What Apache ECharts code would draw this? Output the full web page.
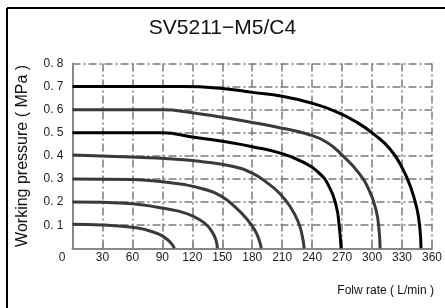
<!DOCTYPE html>
<html>
<head>
<meta charset="utf-8">
<script src="https://cdn.jsdelivr.net/npm/echarts@6/dist/echarts.min.js"></script>
<style>html,body{margin:0;padding:0;background:#fff}#c{width:445px;height:308px}</style>
</head>
<body>
<div id="c"></div>
<script>
var titleText = 'SV5211\u2212M5/C4';
var xAxisName = 'Folw rate ( L/min )';
var yAxisName = 'Working pressure ( MPa )';
var xTicks = [0, 30, 60, 90, 120, 150, 180, 210, 240, 270, 300, 330, 360];
var yTicks = [0, 0.1, 0.2, 0.3, 0.4, 0.5, 0.6, 0.7, 0.8];
var yTickLabels = ['', '0. 1', '0. 2', '0. 3', '0. 4', '0. 5', '0. 6', '0. 7', '0. 8'];

var curveNames = ['0.7', '0.6', '0.5', '0.4', '0.3', '0.2', '0.1'];
var flow07 = [0, 110, 150, 180, 210, 240, 265, 285, 303, 318, 330, 339, 345, 348, 349];
var pres07 = [0.7, 0.7, 0.692, 0.675, 0.658, 0.628, 0.59, 0.545, 0.49, 0.43, 0.35, 0.26, 0.17, 0.08, 0];
var flow06 = [0, 90, 120, 150, 180, 210, 235, 255, 272, 286, 297, 304, 307, 308];
var pres06 = [0.6, 0.6, 0.587, 0.567, 0.545, 0.52, 0.495, 0.458, 0.395, 0.33, 0.252, 0.165, 0.079, 0];
var flow05 = [0, 90, 120, 150, 180, 210, 230, 246, 257, 264, 267, 269];
var pres05 = [0.5, 0.5, 0.482, 0.463, 0.44, 0.41, 0.375, 0.33, 0.267, 0.185, 0.1, 0];
var flow04 = [0, 50, 100, 130, 160, 180, 196, 208, 218, 226, 230, 232];
var pres04 = [0.404, 0.396, 0.387, 0.375, 0.355, 0.325, 0.28, 0.235, 0.18, 0.115, 0.055, 0];
var flow03 = [0, 60, 90, 110, 130, 148, 163, 175, 183, 187, 189];
var pres03 = [0.3, 0.298, 0.288, 0.277, 0.258, 0.228, 0.178, 0.125, 0.075, 0.035, 0];
var flow02 = [0, 30, 60, 85, 105, 120, 132, 140, 144, 145];
var pres02 = [0.2, 0.199, 0.193, 0.178, 0.162, 0.14, 0.11, 0.07, 0.03, 0];
var flow01 = [0, 30, 55, 72, 86, 95, 100, 102];
var pres01 = [0.104, 0.101, 0.093, 0.082, 0.062, 0.038, 0.015, 0];

var flows = [flow07, flow06, flow05, flow04, flow03, flow02, flow01];
var pres = [pres07, pres06, pres05, pres04, pres03, pres02, pres01];
var colors = ['#000000', '#3a3a3a', '#000000', '#3a3a3a', '#3a3a3a', '#3a3a3a', '#3a3a3a'];

function zip(a, b) { return a.map(function (v, i) { return [v, b[i]]; }); }

var gridColor = '#7a7a7a';
var dashDot = [8, 3, 2, 3];

var series = curveNames.map(function (n, i) {
  return {
    name: n, type: 'line', data: zip(flows[i], pres[i]),
    showSymbol: false, smooth: 0.5,
    lineStyle: { color: colors[i], width: 3 }, z: 5
  };
});

var chart = echarts.init(document.getElementById('c'), null, { renderer: 'canvas' });
chart.setOption({
  animation: false,
  backgroundColor: '#fff',
  title: {
    text: titleText, left: 'center', top: 13,
    textStyle: { fontFamily: 'Liberation Sans', fontSize: 21, fontWeight: 'normal', color: '#111' }
  },
  grid: { left: 72.5, right: 12.3, top: 63.5, bottom: 59.7, containLabel: false },
  xAxis: {
    type: 'value', min: xTicks[0], max: xTicks[xTicks.length - 1], interval: xTicks[1] - xTicks[0],
    name: xAxisName, nameLocation: 'end', nameGap: 2,
    nameTextStyle: { fontFamily: 'Liberation Sans', fontSize: 12, color: '#111', align: 'right', verticalAlign: 'top', padding: [36, 0, 0, 0] },
    axisLine: { show: true, lineStyle: { color: '#888', width: 2 } },
    axisTick: { show: true, inside: true, length: 5, lineStyle: { color: '#888', width: 1.5 } },
    axisLabel: {
      margin: 3, fontFamily: 'Liberation Sans', fontSize: 12, color: '#222',
      formatter: function (v) { return v === 0 ? '{z|0}' : String(v); },
      rich: { z: { fontFamily: 'Liberation Sans', fontSize: 12, color: '#222', padding: [0, 21, 0, 0] } }
    },
    splitLine: { show: true, lineStyle: { color: gridColor, width: 1.5, type: dashDot } }
  },
  yAxis: {
    type: 'value', min: yTicks[0], max: yTicks[yTicks.length - 1], interval: 0.1,
    name: yAxisName, nameLocation: 'middle', nameGap: 42,
    nameTextStyle: { fontFamily: 'Liberation Sans', fontSize: 16, color: '#111' },
    axisLine: { show: true, lineStyle: { color: '#888', width: 2 } },
    axisTick: { show: false },
    axisLabel: {
      margin: 9, fontFamily: 'Liberation Sans', fontSize: 12, color: '#222',
      formatter: function (v) { var i = Math.round(v * 10); return yTickLabels[i]; }
    },
    splitLine: { show: true, lineStyle: { color: gridColor, width: 1.5, type: dashDot } }
  },
  graphic: [
    { type: 'line', shape: { x1: 7, y1: 8, x2: 7, y2: 308 }, style: { stroke: '#000', lineWidth: 2 } },
    { type: 'line', shape: { x1: 7, y1: 8, x2: 445, y2: 8 }, style: { stroke: '#000', lineWidth: 2 } }
  ],
  series: series
});
</script>
</body>
</html>
